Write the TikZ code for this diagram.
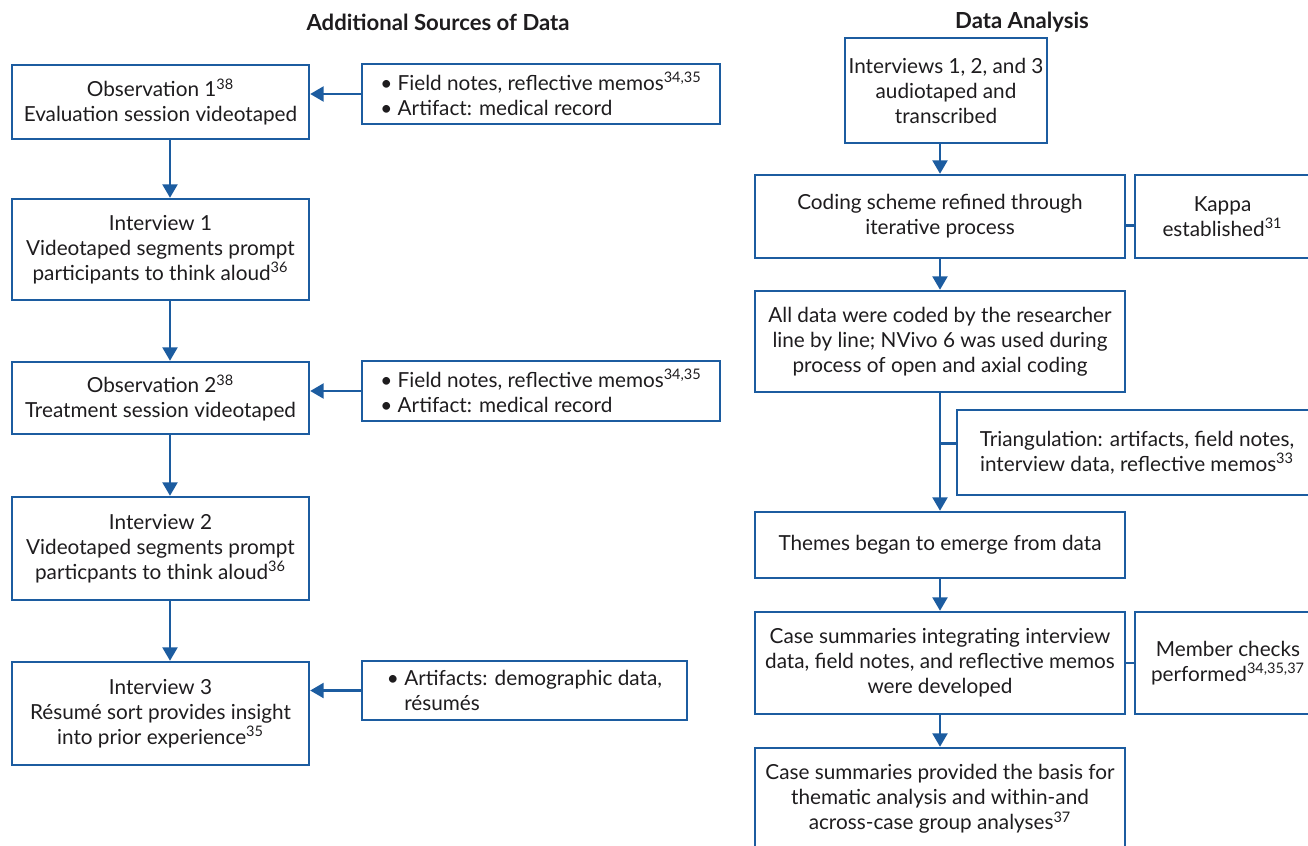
\documentclass[tikz,border=0pt]{standalone}
\usepackage{fontspec}
\setmainfont{Lato}
\usetikzlibrary{arrows.meta}
\definecolor{flowblue}{RGB}{28,92,160}
\definecolor{inkgray}{RGB}{30,28,30}
\newcommand{\sups}[1]{\textsuperscript{#1}}

\begin{document}
\begin{tikzpicture}[x=0.02cm,y=-0.02cm,
  every node/.style={text=inkgray,font=\fontsize{11.8}{14.2}\selectfont},
  box/.style={draw=flowblue,line width=1.4pt,align=center,inner sep=2pt},
  srcbox/.style={box,align=left},
  head/.style={font=\fontsize{12.6}{15}\selectfont\bfseries},
  flow/.style={draw=flowblue,line width=1.4pt,-{Triangle[length=0.27cm,width=0.3cm]}},
  link/.style={draw=flowblue,line width=1.4pt}]
\useasboundingbox (0,0) rectangle (1308,845);
\node[head] (hdrL) at (438,22) {Additional Sources of Data};
\node[head] (hdrR) at (1022,22) {Data Analysis};
% left column
\node[box,minimum width=5.94cm,minimum height=1.48cm] (obsA) at (160.5,102) {Observation 1\sups{38}\\Evaluation session videotaped};
\node[box,minimum width=5.94cm,minimum height=2.02cm] (intA) at (160.5,249.5) {Interview 1\\Videotaped segments prompt\\participants to think aloud\sups{36}};
\node[box,minimum width=5.94cm,minimum height=1.44cm] (obsB) at (160.5,398) {Observation 2\sups{38}\\Treatment session videotaped};
\node[box,minimum width=5.94cm,minimum height=2.06cm] (intB) at (160.5,548.5) {Interview 2\\Videotaped segments prompt\\particpants to think aloud\sups{36}};
\node[box,minimum width=5.94cm,minimum height=2.06cm] (intC) at (160.5,713.5) {Interview 3\\Résumé sort provides insight\\into prior experience\sups{35}};
\node[srcbox,minimum width=7.16cm,minimum height=1.2cm] (srcA) at (541,94) {\textbullet{} Field notes, reflective memos\sups{34,35}\\\textbullet{} Artifact: medical record};
\node[srcbox,minimum width=7.16cm,minimum height=1.2cm] (srcB) at (541,391) {\textbullet{} Field notes, reflective memos\sups{34,35}\\\textbullet{} Artifact: medical record};
\node[srcbox,minimum width=6.5cm,minimum height=1.18cm] (srcC) at (524.5,690.5) {\textbullet{} Artifacts: demographic data,\\\phantom{\textbullet{} }résumés};
\draw[flow] ([xshift=0.19cm]obsA.south) -- ([xshift=0.19cm]intA.north);
\draw[flow] ([xshift=0.19cm]intA.south) -- ([xshift=0.19cm]obsB.north);
\draw[flow] ([xshift=0.19cm]obsB.south) -- ([xshift=0.19cm]intB.north);
\draw[flow] ([xshift=0.19cm]intB.south) -- ([xshift=0.19cm]intC.north);
\draw[flow] (srcA.west) -- (srcA.west -| obsA.east);
\draw[flow] (srcB.west) -- (srcB.west -| obsB.east);
\draw[flow] (srcC.west) -- (srcC.west -| intC.east);
% right column
\node[box,minimum width=4.04cm,minimum height=2.1cm] (trans) at (946,90.5) {Interviews 1, 2, and 3\\audiotaped and\\transcribed};
\node[box,minimum width=7.4cm,minimum height=1.66cm] (code) at (940,216.5) {Coding scheme refined through\\iterative process};
\node[box,minimum width=3.5cm,minimum height=1.66cm] (kappa) at (1222.5,216.5) {Kappa\\established\sups{31}};
\node[box,minimum width=7.4cm,minimum height=2.02cm] (alldata) at (940,341.5) {All data were coded by the researcher\\line by line; NVivo 6 was used during\\process of open and axial coding};
\node[box,minimum width=7.2cm,minimum height=1.7cm] (tri) at (1137,452.5) {Triangulation: artifacts, field notes,\\interview data, reflective memos\sups{33}};
\node[box,minimum width=7.4cm,minimum height=1.32cm] (themes) at (940,545) {Themes began to emerge from data};
\node[box,minimum width=7.4cm,minimum height=2.04cm] (cases) at (940,663) {Case summaries integrating interview\\data, field notes, and reflective memos\\were developed};
\node[box,minimum width=3.72cm,minimum height=2.04cm] (member) at (1228,663) {Member checks\\performed\sups{34,35,37}};
\node[box,minimum width=7.4cm,minimum height=2.04cm] (basis) at (940,799) {Case summaries provided the basis for\\thematic analysis and within-and\\across-case group analyses\sups{37}};
\draw[flow] (code.north |- trans.south) -- (code.north);
\draw[flow] (code) -- (alldata);
\draw[flow] (alldata) -- (themes);
\draw[flow] (themes) -- (cases);
\draw[flow] (cases) -- (basis);
\draw[link] ([yshift=-0.18cm]code.east) -- ([yshift=-0.18cm]kappa.west);
\draw[link] ([yshift=0.18cm]alldata.south |- tri.west) -- ([yshift=0.18cm]tri.west);
\draw[link] (cases.east) -- (member.west);
\end{tikzpicture}
\end{document}
